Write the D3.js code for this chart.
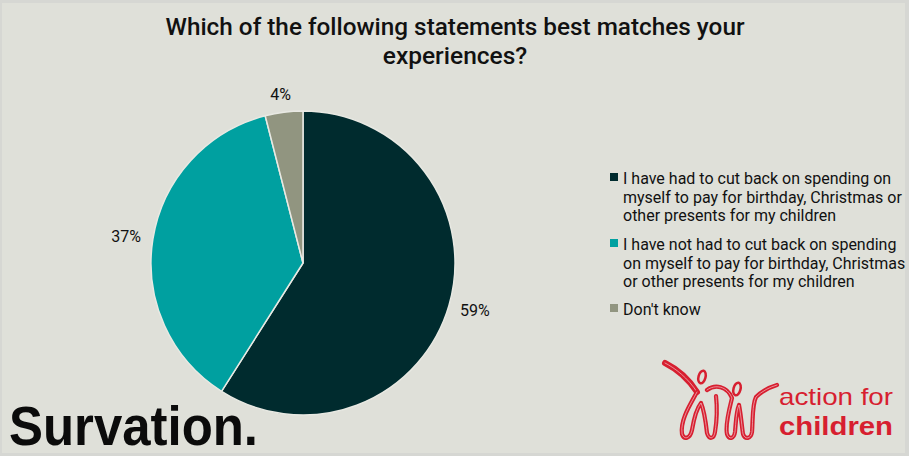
<!DOCTYPE html>
<html><head><meta charset="utf-8">
<script src="https://cdn.jsdelivr.net/npm/d3@7"></script>
<style>html,body{margin:0;padding:0;background:#dfe0d9;}svg{display:block;}</style>
</head><body>
<script>
const categories = [
  "I have had to cut back on spending on myself to pay for birthday, Christmas or other presents for my children",
  "I have not had to cut back on spending on myself to pay for birthday, Christmas or other presents for my children",
  "Don't know"
];
const values = [59, 37, 4];
const valueLabels = ["59%", "37%", "4%"];
const legendLines = [
  ["I have had to cut back on spending on", "myself to pay for birthday, Christmas or", "other presents for my children"],
  ["I have not had to cut back on spending", "on myself to pay for birthday, Christmas", "or other presents for my children"],
  ["Don't know"]
];
const colors = ["#002b2e", "#00a0a0", "#919580"];
const titleLines = ["Which of the following statements best matches your", "experiences?"];

const W = 909, H = 456;
const svg = d3.select("body").append("svg").attr("width", W).attr("height", H);
const cond = "'Roboto', 'Liberation Sans', sans-serif";

svg.append("rect").attr("width", W).attr("height", H).attr("fill", "#d6d7d3");
svg.append("rect").attr("x", 2).attr("y", 3).attr("width", W - 6).attr("height", H - 6).attr("fill", "#dfe0d9");

// title
svg.selectAll("text.title").data(titleLines).enter().append("text")
  .attr("x", 455).attr("y", (d, i) => 35 + i * 29)
  .attr("text-anchor", "middle").attr("font-family", cond).attr("font-weight", 500)
  .attr("font-size", 24.5).attr("fill", "#111")
  .each(function (d, i) { if (i === 0) d3.select(this).attr("textLength", 579).attr("lengthAdjust", "spacingAndGlyphs"); })
  .text(d => d);

// pie
const cx = 303, cy = 263, r = 152;
const pie = d3.pie().sort(null).value(d => d)(values);
const arc = d3.arc().innerRadius(0).outerRadius(r);
const g = svg.append("g").attr("transform", `translate(${cx},${cy})`);
g.selectAll("path").data(pie).enter().append("path")
  .attr("d", arc).attr("fill", (d, i) => colors[i])
  .attr("stroke", "#e8e9e3").attr("stroke-width", 1.5);

// value labels: anchor just outside the rim, pushed out by half the label box
const labelArc = d3.arc().innerRadius(r + 12).outerRadius(r + 12);
const lw = 30, lh = 12;
g.selectAll("text.val").data(pie).enter().append("text")
  .attr("transform", d => {
    const c = labelArc.centroid(d);
    const a = (d.startAngle + d.endAngle) / 2;
    return `translate(${c[0] + Math.sin(a) * lw / 2},${c[1] - Math.cos(a) * lh / 2})`;
  })
  .attr("text-anchor", "middle").attr("dy", "0.36em")
  .attr("font-family", cond).attr("font-size", 16).attr("fill", "#111")
  .text((d, i) => valueLabels[i]);

// legend
const legendY = [184, 250, 315];
const lg = svg.append("g");
legendLines.forEach((lines, i) => {
  lg.append("rect").attr("x", 610).attr("y", legendY[i] - 11).attr("width", 8).attr("height", 8).attr("fill", colors[i]);
  lines.forEach((t, j) => {
    lg.append("text").attr("x", 623).attr("y", legendY[i] + j * 18.5)
      .attr("font-family", cond).attr("font-size", 16).attr("fill", "#111").text(t);
  });
});

// Survation logo
svg.append("text").attr("x", 9).attr("y", 445)
  .attr("font-family", "'Liberation Sans', Arial, sans-serif").attr("font-weight", "bold")
  .attr("font-size", 56).attr("textLength", 249).attr("lengthAdjust", "spacingAndGlyphs")
  .attr("fill", "#0b0b0b").text("Survation.");

// Action for Children logo
const red = "#d71f30";
const lgo = svg.append("g").attr("fill", "none").attr("stroke", red).attr("stroke-linecap", "round").attr("stroke-linejoin", "round");
const figPaths = [
  ["M665,363 C675,368 688,378 697,392", 6],
  ["M697,392 C690,405 680,420 682,434 C684,440 690,439 692,430 C694,418 697,408 701,403 C704,410 706,424 707,433 C709,440 714,439 715,432 C717,420 717,405 716,396", 4.2],
  ["M707,390 C715,384 727,386 732,398 C729,410 725,425 727,434 C729,440 734,439 735,432 C736,422 736,412 739,405 C741,415 742,428 743,434 C745,440 751,439 752,432 C753,420 752,405 756,397 C762,391 770,387 777,385", 4.2]
];
figPaths.forEach(([p, w]) => {
  lgo.append("path").attr("d", p).attr("stroke-width", w);
  lgo.append("path").attr("d", p).attr("stroke", "#f6d0d4").attr("stroke-width", 0.8).attr("opacity", 0.8);
});
lgo.append("ellipse").attr("cx", 702).attr("cy", 377).attr("rx", 3.5).attr("ry", 6.5).attr("stroke-width", 2.5).attr("transform", "rotate(15,702,377)");
lgo.append("ellipse").attr("cx", 737).attr("cy", 389).attr("rx", 3.5).attr("ry", 6.5).attr("stroke-width", 2.5).attr("transform", "rotate(15,737,389)");

svg.append("text").attr("x", 779).attr("y", 405)
  .attr("font-family", "'Liberation Sans', sans-serif").attr("font-size", 24)
  .attr("textLength", 114).attr("lengthAdjust", "spacingAndGlyphs")
  .attr("fill", red).text("action for");
svg.append("text").attr("x", 779).attr("y", 435)
  .attr("font-family", "'Liberation Sans', sans-serif").attr("font-weight", "bold").attr("font-size", 26.5)
  .attr("textLength", 114).attr("lengthAdjust", "spacingAndGlyphs")
  .attr("fill", red).text("children");
</script>
</body></html>
